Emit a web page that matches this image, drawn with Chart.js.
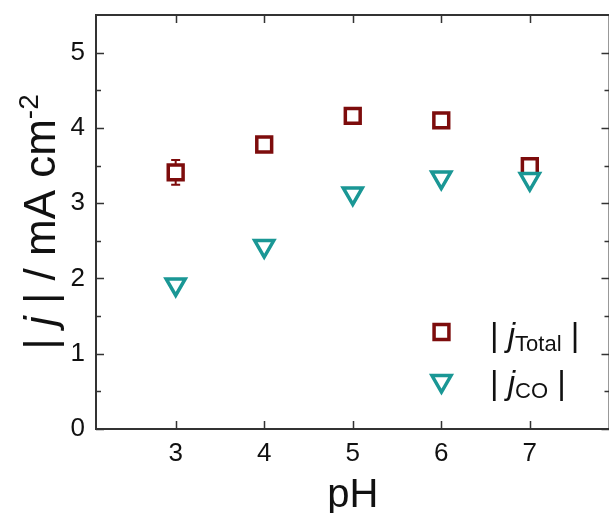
<!DOCTYPE html>
<html>
<head>
<meta charset="utf-8">
<script src="https://cdn.jsdelivr.net/npm/chart.js@4.4.1/dist/chart.umd.min.js"></script>
<style>
  html, body { margin: 0; padding: 0; background: #fff; }
  #wrap { width: 609px; height: 513px; overflow: hidden; }
</style>
</head>
<body>
<div id="wrap"><canvas id="chart" width="624" height="513"></canvas></div>
<script>
// pH values and current densities
var phValues = [3, 4, 5, 6, 7];
var jTotal = [3.41, 3.78, 4.16, 4.10, 3.49];
var jTotalErr = [0.165, 0, 0, 0, 0];
var jCO = [1.92, 2.43, 3.13, 3.34, 3.32];
var xTicks = [3, 4, 5, 6, 7];
var yTicks = [0, 1, 2, 3, 4, 5];
var yMinorTicks = [0.5, 1.5, 2.5, 3.5, 4.5];

var red = '#7d0c0c';
var teal = '#1a9795';
var axisColor = '#333333';
var fontFam = '"Liberation Sans", Arial, sans-serif';

function toPoints(xs, ys) {
    return xs.map(function(x, i) { return { x: x, y: ys[i] }; });
}

// draws a run of text pieces with different fonts, starting at x,y (baseline)
function drawRich(ctx, parts, x, y, align) {
    var total = 0;
    parts.forEach(function(p) { ctx.font = p.font; p.w = ctx.measureText(p.text).width; total += p.w; });
    var cx = align === 'center' ? x - total / 2 : x;
    parts.forEach(function(p) {
        ctx.font = p.font;
        ctx.fillText(p.text, cx, y + (p.dy || 0));
        cx += p.w;
    });
}

// keep the plot box where the figure has it
function noPad(s) {
    s.paddingTop = 0; s.paddingBottom = 0; s.paddingLeft = 0; s.paddingRight = 0;
}

var framePlugin = {
    id: 'frame',
    beforeDatasetsDraw: function(chart) {
        // error bars (behind the markers)
        var ctx = chart.ctx, xs = chart.scales.x, ys = chart.scales.y;
        ctx.save();
        ctx.strokeStyle = red;
        ctx.lineWidth = 2;
        phValues.forEach(function(ph, i) {
            if (!jTotalErr[i]) return;
            var px = xs.getPixelForValue(ph);
            var top = ys.getPixelForValue(jTotal[i] + jTotalErr[i]);
            var bot = ys.getPixelForValue(jTotal[i] - jTotalErr[i]);
            ctx.beginPath();
            ctx.moveTo(px, top); ctx.lineTo(px, bot);
            ctx.moveTo(px - 4.5, top); ctx.lineTo(px + 4.5, top);
            ctx.moveTo(px - 4.5, bot); ctx.lineTo(px + 4.5, bot);
            ctx.stroke();
        });
        ctx.restore();
    },
    afterDraw: function(chart) {
        var ctx = chart.ctx, a = chart.chartArea;
        var xs = chart.scales.x, ys = chart.scales.y;
        ctx.save();
        ctx.strokeStyle = axisColor;
        ctx.lineWidth = 2;
        ctx.strokeRect(a.left, a.top, a.right - a.left, a.bottom - a.top);

        // inward ticks
        ctx.beginPath();
        xTicks.forEach(function(v) {
            var px = Math.round(xs.getPixelForValue(v)) + 0.5;
            ctx.moveTo(px, a.bottom); ctx.lineTo(px, a.bottom - 8);
            ctx.moveTo(px, a.top); ctx.lineTo(px, a.top + 8);
        });
        yTicks.forEach(function(v) {
            var py = Math.round(ys.getPixelForValue(v)) + 0.5;
            ctx.moveTo(a.left, py); ctx.lineTo(a.left + 8, py);
            ctx.moveTo(a.right, py); ctx.lineTo(a.right - 8, py);
        });
        yMinorTicks.forEach(function(v) {
            var py = Math.round(ys.getPixelForValue(v)) + 0.5;
            ctx.moveTo(a.left, py); ctx.lineTo(a.left + 5, py);
            ctx.moveTo(a.right, py); ctx.lineTo(a.right - 5, py);
        });
        ctx.lineWidth = 1.5;
        ctx.stroke();

        // axis titles
        ctx.fillStyle = '#111';
        ctx.textBaseline = 'alphabetic';
        ctx.font = '40px ' + fontFam;
        ctx.textAlign = 'center';
        ctx.fillText('pH', (a.left + a.right) / 2, 507);
        ctx.textAlign = 'left';

        ctx.save();
        ctx.translate(55, 222);
        ctx.rotate(-Math.PI / 2);
        drawRich(ctx, [
            { text: '| ', font: '44px ' + fontFam },
            { text: 'j', font: 'italic 44px ' + fontFam },
            { text: ' | / mA cm', font: '44px ' + fontFam },
            { text: '-2', font: '28px ' + fontFam, dy: -17 }
        ], 0, 0, 'center');
        ctx.restore();

        // legend
        var helpers = Chart.helpers;
        ctx.lineWidth = 3.5;
        ctx.strokeStyle = red; ctx.fillStyle = '#fff';
        helpers.drawPoint(ctx, { pointStyle: 'rect', radius: 10.5, rotation: 0, borderWidth: 3.5 }, 441.5, 332);
        ctx.strokeStyle = teal; ctx.fillStyle = '#fff';
        helpers.drawPoint(ctx, { pointStyle: 'triangle', radius: 11, rotation: 180, borderWidth: 3.5 }, 441.5, 381);

        ctx.fillStyle = '#111';
        drawRich(ctx, [
            { text: '| ', font: '33px ' + fontFam },
            { text: 'j', font: 'italic 33px ' + fontFam },
            { text: 'Total', font: '22px ' + fontFam, dy: 5 },
            { text: ' |', font: '33px ' + fontFam }
        ], 490, 346);
        drawRich(ctx, [
            { text: '| ', font: '33px ' + fontFam },
            { text: 'j', font: 'italic 33px ' + fontFam },
            { text: 'CO', font: '22px ' + fontFam, dy: 4 },
            { text: ' |', font: '33px ' + fontFam }
        ], 490, 394);
        ctx.restore();
    }
};

new Chart(document.getElementById('chart'), {
    type: 'scatter',
    data: {
        datasets: [{
            label: '|jCO|',
            data: toPoints(phValues, jCO),
            pointStyle: 'triangle',
            rotation: 180,
            radius: 11,
            borderWidth: 3.5,
            borderColor: teal,
            backgroundColor: '#fff',
            order: 0
        }, {
            label: '|jTotal|',
            data: toPoints(phValues, jTotal),
            pointStyle: 'rect',
            radius: 10.5,
            borderWidth: 3.5,
            borderColor: red,
            backgroundColor: '#fff',
            order: 1
        }]
    },
    options: {
        responsive: false,
        animation: false,
        devicePixelRatio: 1,
        layout: { padding: { left: 0, top: 15, right: 5.5, bottom: 0 } },
        plugins: {
            legend: { display: false },
            tooltip: { enabled: false }
        },
        scales: {
            x: {
                type: 'linear',
                min: 2.1,
                max: 7.9,
                afterFit: function(s) { s.height = 84; noPad(s); },
                afterBuildTicks: function(s) { s.ticks = xTicks.map(function(v) { return { value: v }; }); },
                grid: { display: false, drawTicks: false },
                border: { display: false },
                ticks: { color: '#111', padding: 9, font: { family: fontFam, size: 26 } }
            },
            y: {
                min: 0,
                max: 5.5,
                afterFit: function(s) { s.width = 96; noPad(s); },
                afterBuildTicks: function(s) { s.ticks = yTicks.map(function(v) { return { value: v }; }); },
                grid: { display: false, drawTicks: false },
                border: { display: false },
                ticks: { color: '#111', padding: 11, font: { family: fontFam, size: 26 } }
            }
        }
    },
    plugins: [framePlugin]
});
</script>
</body>
</html>
